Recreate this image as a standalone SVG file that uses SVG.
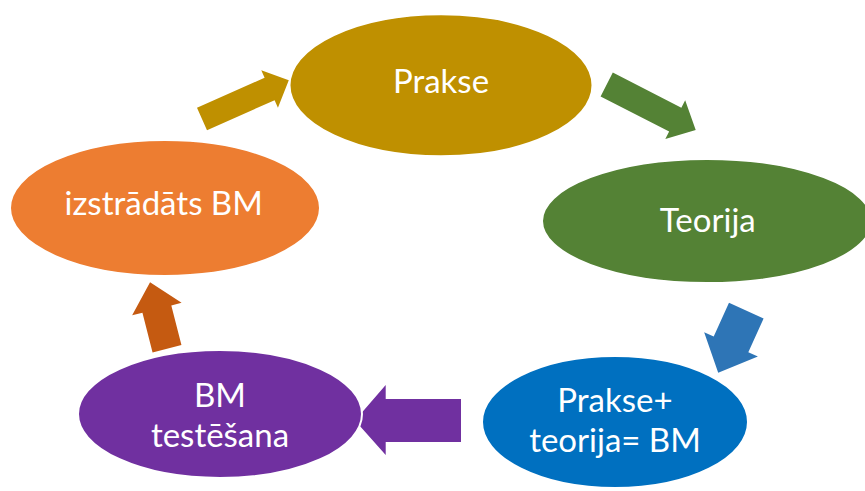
<svg xmlns="http://www.w3.org/2000/svg" width="865" height="491" viewBox="0 0 865 491">
  <style>
    .node { stroke: #ffffff; stroke-width: 2; }
    .label { font-family: Lato, "Open Sans", "Liberation Sans", sans-serif; font-size: 33px; fill: #ffffff; text-anchor: middle; }
  </style>
  <rect width="865" height="491" fill="#ffffff"/>

  <!-- block arrows between the stages -->
  <g id="connectors">
    <!-- Prakse -> Teorija is drawn in green, etc.; each arrow points along +x before rotation -->
    <polygon fill="#BF9000" transform="translate(202,119) rotate(-24)"
             points="0,-12.3 74,-12.3 74,-20.5 95,0 74,20.5 74,12.3 0,12.3"/>
    <polygon fill="#548235" transform="translate(606.7,84.5) rotate(27.1)"
             points="0,-13.4 77,-13.4 77,-21.8 100,0 77,21.8 77,13.4 0,13.4"/>
    <polygon fill="#2E75B6" transform="translate(746.3,310.7) rotate(114.4)"
             points="0,-19 37,-19 37,-29.5 68,0 37,29.5 37,19 0,19"/>
    <polygon fill="#7030A0"
             points="461,399 385.7,399 385.7,385 355,420.5 385.7,455 385.7,442 461,442"/>
    <polygon fill="#C55A11" transform="translate(167,348.8) rotate(-104.3)"
             points="0,-14.9 41,-14.9 41,-25.5 68.6,0 41,25.5 41,14.9 0,14.9"/>
  </g>

  <g id="prakse">
    <ellipse class="node" cx="441" cy="85.3" rx="151.5" ry="71" fill="#BF9000"/>
    <text class="label" x="441" y="93.3">Prakse</text>
  </g>

  <g id="teorija">
    <ellipse class="node" cx="707" cy="221" rx="165" ry="62" fill="#548235"/>
    <text class="label" x="707.8" y="231.7">Teorija</text>
  </g>

  <g id="prakse-teorija-bm">
    <ellipse class="node" cx="615" cy="422" rx="133" ry="66" fill="#0070C0"/>
    <text class="label" x="615" y="411.7">Prakse+</text>
    <text class="label" x="615" y="451.7">teorija= BM</text>
  </g>

  <g id="bm-testesana">
    <ellipse class="node" cx="220" cy="414" rx="142" ry="64" fill="#7030A0"/>
    <text class="label" x="220" y="406.7">BM</text>
    <text class="label" x="220" y="446.7">testēšana</text>
  </g>

  <g id="izstradats-bm">
    <ellipse class="node" cx="165" cy="208" rx="155" ry="68" fill="#ED7D31"/>
    <text class="label" x="163.7" y="215">izstrādāts BM</text>
  </g>
</svg>
